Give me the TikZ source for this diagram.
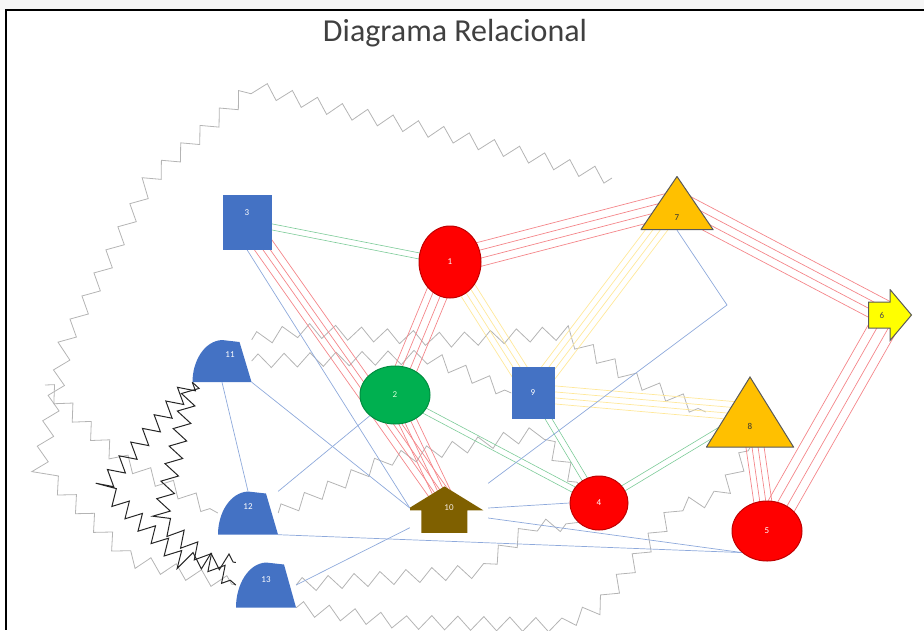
\documentclass[tikz,border=0pt]{standalone}
\usepackage{fontspec}
\setmainfont{Carlito}
\usepackage{tikz}
\usetikzlibrary{calc}
\usetikzlibrary{shapes.geometric}
\usetikzlibrary{decorations.pathmorphing}
\definecolor{shapeblue}{HTML}{4472C4}
\definecolor{shapered}{HTML}{FF0000}
\definecolor{shapegreen}{HTML}{00B050}
\definecolor{shapeorange}{HTML}{FFC000}
\definecolor{shapeyellow}{HTML}{FFFF00}
\definecolor{shapebrown}{HTML}{7F6000}
\definecolor{linkred}{HTML}{F4868A}
\definecolor{linkgreen}{HTML}{7CCB98}
\definecolor{linkyellow}{HTML}{FFE89A}
\definecolor{linkblue}{HTML}{8EA9DB}
\definecolor{zzgray}{HTML}{B4B4B4}
\pgfdeclarelayer{background}
\pgfsetlayers{background,main}
\tikzset{num/.style = {font=\fontsize{9}{10}\selectfont, text=white}}
\tikzset{oval/.style = {ellipse, inner sep=0, num, line width=1pt}}
\tikzset{box/.style = {rectangle, inner sep=0, num, fill=shapeblue}}
% path pictures are drawn round the node centre
\tikzset{tri/.style 2 args = {rectangle, inner sep=0, minimum width=#1, minimum height=#2,
  path picture={\filldraw[fill=shapeorange, draw=gray!70!black, line width=1pt]
    (-#1/2+0.5,#2/2-0.5) -- (0,-#2/2+0.5) -- (#1/2-0.5,#2/2-0.5) -- cycle;}}}
\tikzset{delay/.style 2 args = {rectangle, inner sep=0, minimum width=#1, minimum height=#2,
  path picture={\fill[shapeblue]
    (-#1/2,#2/2) -- (#1/2,#2/2) -- (#1/2-12,-#2/2+2) -- (0,-#2/2) .. controls (-0.3*#1,-#2/2+1) and (-#1/2,0) .. (-#1/2,#2/2) -- cycle;}}}
\tikzset{uparrow/.style = {rectangle, inner sep=0, num, text=white!85!brown, minimum width=78, minimum height=49,
  path picture={\fill[shapebrown]
    (-39,-0.5) -- (0,-24.5) -- (39,-0.5) -- (23,-0.5) -- (23,24.5) -- (-23,24.5) -- (-23,-0.5) -- cycle;}}}
\tikzset{rarrow/.style = {rectangle, inner sep=0, minimum width=44, minimum height=52,
  path picture={\filldraw[fill=shapeyellow, draw=gray!70!black, line width=1pt]
    (-21.5,-13) -- (0,-13) -- (0,-25.5) -- (21.5,0) -- (0,25.5) -- (0,13) -- (-21.5,13) -- cycle;}}}
\tikzset{redlink/.style = {draw=linkred, line width=0.7pt}}
\tikzset{greenlink/.style = {draw=linkgreen, line width=0.6pt}}
\tikzset{yellowlink/.style = {draw=linkyellow, line width=0.7pt}}
\tikzset{bluelink/.style = {draw=linkblue, line width=0.7pt}}
\tikzset{zz/.style = {draw=zzgray, line width=0.8pt, decorate, decoration={zigzag, segment length=26pt, amplitude=7pt}}}
\tikzset{blackzz/.style = {draw=black!85, line width=1pt, decorate, decoration={zigzag, segment length=18pt, amplitude=8pt}}}
% parallel lines between two nodes
\newcommand{\linkset}[4]{\foreach \o in {#4} {\draw[#1] ($(#2)!\o!90:(#3)$) -- ($(#3)!\o!-90:(#2)$);}}

\begin{document}
\begin{tikzpicture}[x=1pt, y=-1pt]
  \useasboundingbox (0,0) rectangle (924,630);
  \fill[gray!7] (0,0) rectangle (924,10);
  \draw[line width=2.2pt] (924,10) -- (6,10) -- (6,630);
  \node[font=\fontsize{32}{36}\selectfont, text=black!75] (title) at (455,33) {Diagrama Relacional};

  % shapes
  \node[oval, fill=shapered, draw=red!75!black, minimum width=62, minimum height=72] (n1) at (450,262) {1};
  \node[oval, fill=shapegreen, draw=shapegreen!80!black, text=white!85!green, minimum width=70, minimum height=58] (n2) at (395,395) {2};
  \node[box, minimum width=49, minimum height=55, label={[num, yshift=9pt]center:3}] (n3) at (247,222) {};
  \node[oval, fill=shapered, draw=red!75!black, minimum width=58, minimum height=54] (n4) at (599,503) {4};
  \node[oval, fill=shapered, draw=red!75!black, minimum width=70, minimum height=60] (n5) at (767,531) {5};
  \node[rarrow, label={[num, text=black!70, xshift=-8pt]center:6}] (n6) at (890,315) {};
  \node[tri={73}{54}, label={[num, text=black!80, yshift=-15pt]center:7}] (n7) at (677,203) {};
  \node[tri={88}{71}, label={[num, text=black!80, yshift=-14pt]center:8}] (n8) at (750,412) {};
  \node[box, minimum width=43, minimum height=52] (n9) at (533,393) {9};
  \node[uparrow] (n10) at (449,508) {10};
  \node[delay={59}{42}, label={[num, xshift=8pt, yshift=6pt]center:11}] (n11) at (222,361) {};
  \node[delay={60}{43}, label={[num, yshift=6pt]center:12}] (n12) at (248,513) {};
  \node[delay={60}{45}, label={[num, yshift=5pt]center:13}] (n13) at (266,585) {};

  \begin{pgfonlayer}{background}
    % zigzag outlines
    \draw[zz] (612,178) -- (450,135) -- (330,108) -- (253,87) -- (150,180) -- (67,340) -- (40,467) -- (130,560) -- (n13.west);
    \draw[zz] (45,385) -- (117,457) -- (n12.west);
    \draw[zz] (n11.north east) -- (300,330) -- (450,340) -- (563,333) -- (630,377) -- (n8.west);
    \draw[zz] (n11.east) -- (430,357) -- (n9.west);
    \draw[zz] (n12.east) -- (387,460) -- (540,433) -- (n4.north west);
    \draw[zz] (n13.east) -- (478,571) -- (530,528) -- (n4.south west);
    \draw[zz] (n13.south east) -- (400,622) -- (560,625) -- (600,607) -- (677,507) -- (720,497) -- (n8.south);
    \draw[blackzz] (n11.south west) -- (103,487) -- (180,560) -- (n13.north west);
    \draw[blackzz] (n11.south west) -- (160,520) -- (n13.west);

    % links
    \linkset{redlink}{n1}{n7}{-12pt,-4pt,4pt,12pt}
    \linkset{redlink}{n7}{n6}{-12pt,-4pt,4pt,12pt}
    \linkset{redlink}{n6}{n5}{-14pt,-5pt,5pt,14pt}
    \linkset{redlink}{n3}{n10}{-10pt,-3pt,3pt,10pt}
    \linkset{redlink}{n1}{n2}{-11pt,-4pt,4pt,11pt}
    \linkset{redlink}{n2}{n10}{-9pt,-3pt,3pt,9pt}
    \linkset{redlink}{n8}{n5}{-9pt,-3pt,3pt,9pt}
    \linkset{greenlink}{n3}{n1}{-3pt,3pt}
    \linkset{greenlink}{n2}{n4}{-3pt,3pt}
    \linkset{greenlink}{n9}{n4}{-3pt,3pt}
    \linkset{greenlink}{n4}{n8}{-3pt,3pt}
    \linkset{yellowlink}{n1}{n9}{-9pt,-3pt,3pt,9pt}
    \linkset{yellowlink}{n7}{n9}{-9pt,-3pt,3pt,9pt}
    \linkset{yellowlink}{n9}{n8}{-9pt,-3pt,3pt,9pt}

    \coordinate (bend7) at (727,305);
    \draw[bluelink] (n7.south) -- (bend7) -- (n10.north east);
    \draw[bluelink] (n3.south) -- (n10.west);
    \draw[bluelink] (n11.south) -- (n12.north);
    \draw[bluelink] (n11.south east) -- (n10.west);
    \draw[bluelink] (n12.north east) -- (n2);
    \draw[bluelink] (n12.south east) -- (n5.south west);
    \draw[bluelink] (n10.east) -- (n4.west);
    \draw[bluelink] ([yshift=-10pt]n10.east) -- (n5.south west);
    \draw[bluelink] (n13.east) -- (n10);
  \end{pgfonlayer}
\end{tikzpicture}
\end{document}
